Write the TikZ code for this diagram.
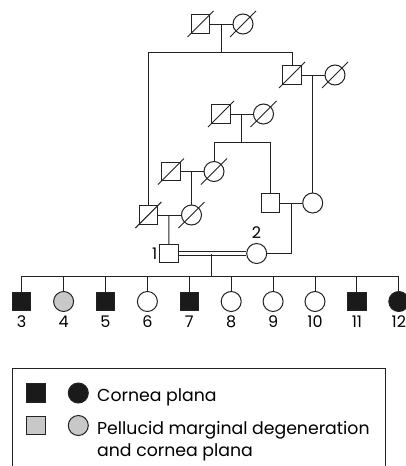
\documentclass[tikz,border=0pt]{standalone}
\usepackage{fontspec}
\setmainfont{Poppins}
\definecolor{lc}{HTML}{222222}
\definecolor{aff}{HTML}{1A1A1A}
\definecolor{pmd}{HTML}{C8C8C8}
\tikzset{
  ln/.style={draw=lc, line width=1pt},
  male/.style={draw=lc, line width=1pt, rectangle, minimum size=18.5pt, inner sep=0pt, fill=white},
  female/.style={draw=lc, line width=1pt, circle, minimum size=20pt, inner sep=0pt, fill=white},
  affected/.style={fill=aff},
  pmdfill/.style={fill=pmd},
  numlbl/.style={font=\fontsize{16}{18}\selectfont, inner sep=0pt},
  legtxt/.style={font=\fontsize{17.3}{20}\selectfont, inner sep=0pt, anchor=base west}
}
\newcommand{\deadmark}[1]{\draw[ln] ([shift={(-13,13)}]#1.center) -- ([shift={(13,-13)}]#1.center);}
\begin{document}
\begin{tikzpicture}[x=1pt,y=-1pt]
\useasboundingbox (0,0) rectangle (406,466);
% Generation I
\node[male] (a1) at (200.5,24) {};
\node[female] (a2) at (243,24) {};
\draw[ln] (a1) -- (a2);
\coordinate (a12) at (221,24);
\coordinate (s1) at (221,52);
\coordinate (s1l) at (148.3,52);
\coordinate (s1r) at (292,52);
\draw[ln] (a12) -- (s1);
\draw[ln] (s1l) -- (s1r);
% Right couple gen II
\node[male] (b1) at (292,75) {};
\node[female] (b2) at (335,75) {};
\draw[ln] (b1) -- (b2);
\draw[ln] (s1r) -- (b1);
\coordinate (b12) at (312.7,75);
% Middle couple
\node[male] (c1) at (221,114) {};
\node[female] (c2) at (263.5,114) {};
\draw[ln] (c1) -- (c2);
\coordinate (c12) at (241,114);
\coordinate (s2) at (241,142);
\coordinate (s2l) at (214,142);
\coordinate (s2r) at (270.5,142);
\draw[ln] (c12) -- (s2);
\draw[ln] (s2l) -- (s2r);
% Left-middle couple
\node[male] (d1) at (171,171.5) {};
\node[female] (d2) at (214,171.5) {};
\draw[ln] (d1) -- (d2);
\draw[ln] (s2l) -- (d2);
\coordinate (d12) at (191.5,171.5);
% Bottom-left couple
\node[male] (e1) at (148.3,215) {};
\node[female] (e2) at (191.5,215) {};
\draw[ln] (e1) -- (e2);
\draw[ln] (s1l) -- (e1);
\draw[ln] (d12) -- (e2);
\coordinate (e12) at (169,215);
% Right couple gen IV
\node[male] (f1) at (270.5,203) {};
\node[female] (f2) at (312.7,203) {};
\draw[ln] (f1) -- (f2);
\draw[ln] (s2r) -- (f1);
\draw[ln] (b12) -- (f2);
\coordinate (f12) at (291.5,203);
% Consanguineous couple
\node[male] (p1) at (168.8,253.5) {};
\node[female] (p2) at (256.7,253.5) {};
\node[numlbl, anchor=east] (l1) at (157.5,253.5) {1};
\node[numlbl] (l2) at (256.5,233) {2};
\draw[ln] (e12) -- (p1);
\coordinate (f12b) at (291.5,253.5);
\draw[ln] (f12) -- (f12b) -- (p2);
\draw[ln] ([yshift=-1.7]p1.east) -- ([yshift=-1.7]p1.east -| p2.west);
\draw[ln] ([yshift=1.7]p1.east) -- ([yshift=1.7]p1.east -| p2.west);
\coordinate (pc) at (211,253.5);
\coordinate (s3) at (211,276);
\draw[ln] (pc) -- (s3);
% deceased marks
\deadmark{a1}\deadmark{a2}\deadmark{b1}\deadmark{b2}\deadmark{c1}\deadmark{c2}
\deadmark{d1}\deadmark{d2}\deadmark{e1}\deadmark{e2}
% Children
\coordinate (s3l) at (21.7,276);
\coordinate (s3r) at (398.8,276);
\draw[ln] (s3l) -- (s3r);
\foreach \i/\sh/\st [count=\k from 0] in {3/male/affected,4/female/pmdfill,5/male/affected,6/female/{},7/male/affected,8/female/{},9/female/{},10/female/{},11/male/affected,12/female/affected}{
  \pgfmathsetmacro{\xx}{21.7+41.9*\k}
  \node[\sh,\st] (k\i) at (\xx,301.5) {};
  \coordinate (t\i) at (\xx,276);
  \draw[ln] (t\i) -- (k\i);
  \node[numlbl] (n\i) at (\xx,321.5) {\i};
}
% Legend
\coordinate (bx1) at (12.7,470);
\coordinate (bx2) at (12.7,368.3);
\coordinate (bx3) at (385,368.3);
\coordinate (bx4) at (385,470);
\draw[ln, line width=0.9pt] (bx1) -- (bx2) -- (bx3) -- (bx4);
\node[male,affected] (lg1) at (36,393) {};
\node[female,affected] (lg2) at (78.3,393) {};
\node[male,pmdfill] (lg3) at (36,425.5) {};
\node[female,pmdfill] (lg4) at (78.3,425.5) {};
\node[legtxt] (lt1) at (97,401) {Cornea plana};
\node[legtxt] (lt2) at (97,434) {Pellucid marginal degeneration};
\node[legtxt] (lt3) at (97,456.5) {and cornea plana};
\end{tikzpicture}
\end{document}
